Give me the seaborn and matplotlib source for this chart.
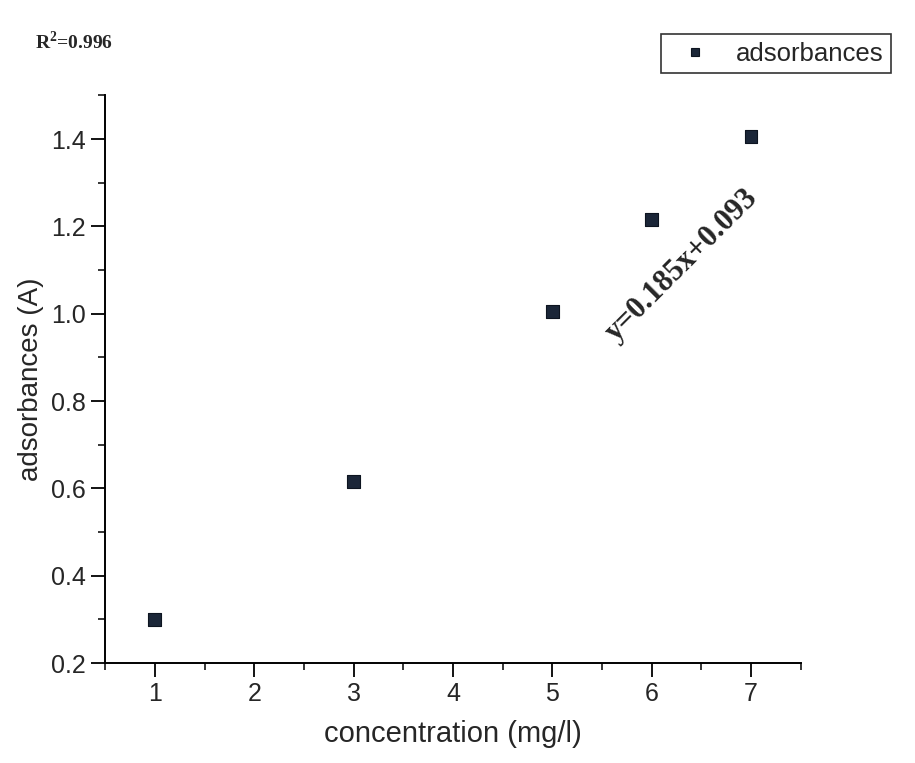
import numpy as np
import pandas as pd
import matplotlib.pyplot as plt
import seaborn as sns
from matplotlib.ticker import MultipleLocator

###################################

concentration = [1, 3, 5, 6, 7]
absorbance = [0.300, 0.615, 1.005, 1.215, 1.405]
series_name = "adsorbances"
x_ticks = [1, 2, 3, 4, 5, 6, 7]
y_ticks = [0.2, 0.4, 0.6, 0.8, 1.0, 1.2, 1.4]
r2_text = "R$^2$=0.996"
eq_text = "y=0.185x+0.093"

###################################

sns.set_style("white")
plt.rcParams['font.family'] = ['Liberation Sans', 'DejaVu Sans']
plt.rcParams['mathtext.fontset'] = 'custom'
plt.rcParams['mathtext.rm'] = 'Liberation Serif:bold'

df = pd.DataFrame({"concentration": concentration,
                   "absorbance": absorbance,
                   "series": series_name})

fig = plt.figure(figsize=(9.15, 7.63), dpi=100)
ax = fig.add_axes([0.115, 0.131, 0.76, 0.744])

sns.scatterplot(data=df, x="concentration", y="absorbance", hue="series",
                palette=["#1b2638"], marker="s", s=85, edgecolor="#0d1420",
                linewidth=0.8, ax=ax)

ax.set(xlim=[0.5, 7.5], ylim=[0.2, 1.5])
ax.set_xticks(x_ticks)
ax.set_yticks(y_ticks)
ax.xaxis.set_minor_locator(MultipleLocator(0.5))
ax.yaxis.set_minor_locator(MultipleLocator(0.1))
ax.set_yticklabels(["{:.1f}".format(v) for v in y_ticks])

# Only left and bottom axis lines, like the original Origin plot.
for side in ["top", "right"]:
    ax.spines[side].set_visible(False)
for side in ["left", "bottom"]:
    ax.spines[side].set_color("black")
    ax.spines[side].set_linewidth(1.4)

ax.tick_params(which="major", direction="out", length=10, width=1.3,
               labelsize=18, color="black", left=True, bottom=True, pad=4)
ax.tick_params(which="minor", direction="out", length=5, width=1.1,
               color="black", left=True, bottom=True)

ax.set_xlabel("concentration (mg/l)", fontsize=21, labelpad=10)
ax.set_ylabel("adsorbances (A)", fontsize=20, labelpad=5)

leg = ax.legend(loc="upper right", bbox_to_anchor=(1.13, 1.108),
                borderaxespad=0, fontsize=18.5, frameon=True, fancybox=False,
                handletextpad=0.6, borderpad=0.3, markerscale=0.7)
leg.get_frame().set_edgecolor("black")
leg.get_frame().set_linewidth(1.2)

fig.text(0.038, 0.936, r2_text, fontsize=14, fontweight="bold",
         family=["Liberation Serif", "DejaVu Serif"])
ax.text(0.83, 0.70, eq_text, transform=ax.transAxes, rotation=45,
        ha="center", va="center", fontsize=22, fontweight="bold",
        family=["Liberation Serif", "DejaVu Serif"])

fig.savefig("out.png", dpi=100)
